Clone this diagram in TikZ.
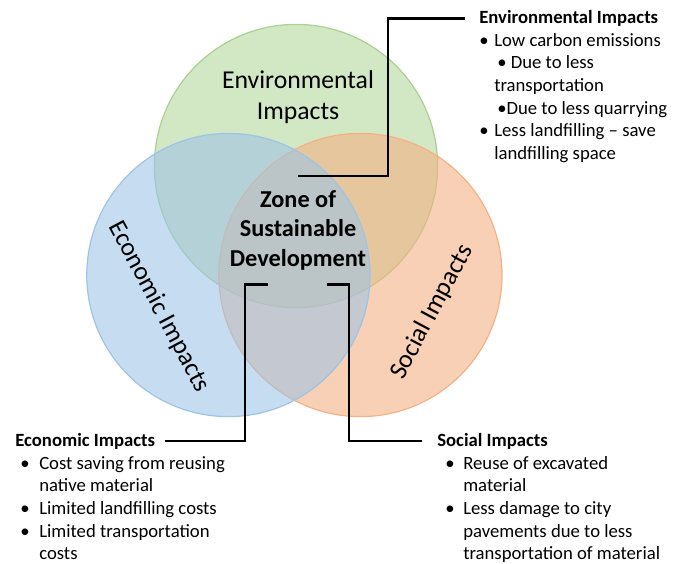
\documentclass[tikz,border=0pt]{standalone}
\usepackage{fontspec}
\setmainfont{Carlito}
\usepackage{xcolor}
\usepackage{tikz}
\usetikzlibrary{
    calc,
    positioning
}
\definecolor{envgreen}{RGB}{169,209,142}
\definecolor{ecoblue}{RGB}{157,195,230}
\definecolor{socorange}{RGB}{244,177,131}

\newcommand{\circlefont}{\fontsize{18.3pt}{22pt}\selectfont}
\newcommand{\zonefont}{\fontsize{17.3pt}{21pt}\selectfont\bfseries}
\newcommand{\impactfont}{\fontsize{13.3pt}{16.1pt}\selectfont}

\tikzset{
    setcircle/.style={
        circle,
        draw=#1,
        fill=#1,
        line width=0.3mm,
        minimum size=70.8mm,
        inner sep=0pt
    }
}
\tikzset{
    setlabel/.style={
        font=\circlefont,
        align=center,
        inner sep=0pt
    }
}
\tikzset{
    zonetext/.style={
        font=\zonefont,
        align=center,
        inner xsep=1mm,
        inner ysep=3.5mm
    }
}
\tikzset{
    leader/.style={
        draw=black,
        line width=0.55mm
    }
}
\tikzset{
    headtext/.style={
        font=\impactfont\bfseries,
        anchor=base west,
        inner sep=0pt
    }
}
\tikzset{
    itemlist/.style={
        font=\impactfont,
        anchor=base west,
        inner sep=0pt
    }
}

\begin{document}
\begin{tikzpicture}

\useasboundingbox (0,0) rectangle (168.75mm,-140.75mm);

% ------------------------------------------------------------
% The three overlapping impact sets (blue one on top)
% ------------------------------------------------------------

\node[setcircle=envgreen, fill opacity=0.52] (envset) at (74mm,-41.5mm) {};
\node[setcircle=socorange, fill opacity=0.6] (socset) at (90.1mm,-68.75mm) {};
\node[setcircle=ecoblue, fill opacity=0.58] (ecoset) at (57.1mm,-68.75mm) {};

\node[setlabel] (envlabel) at (74.5mm,-24.25mm) {Environmental\\Impacts};
\node[setlabel, rotate=-62] (ecolabel) at (39.75mm,-76.75mm) {Economic Impacts};
\node[setlabel, rotate=62] (soclabel) at (108mm,-78mm) {Social Impacts};

\node[zonetext] (zone) at (74.5mm,-57.6mm) {Zone of\\Sustainable\\Development};

% ------------------------------------------------------------
% Impact lists
% ------------------------------------------------------------

\node[headtext] (envhead) at (119.75mm,-5.9mm) {Environmental Impacts};
\node[itemlist] (envlist) at (119.75mm,-11.575mm) {%
    \begin{tabular}[t]{@{}p{3.75mm}@{}l@{}}
        • & Low carbon emissions \\
          & \hspace{0.75mm}• Due to less \\
          & transportation \\
          & \hspace{0.75mm}•Due to less quarrying \\
        • & Less landfilling – save \\
          & landfilling space
    \end{tabular}};

\node[headtext] (ecohead) at (3.75mm,-111.6mm) {Economic Impacts};
\node[itemlist] (ecolist) at (3.75mm,-117.3mm) {%
    \begin{tabular}[t]{@{\hspace{1.25mm}}p{4.75mm}@{}l@{}}
        • & Cost saving from reusing \\
          & native material \\
        • & Limited landfilling costs \\
        • & Limited transportation \\
          & costs
    \end{tabular}};

\node[headtext] (sochead) at (109.25mm,-111.6mm) {Social Impacts};
\node[itemlist] (soclist) at (109.25mm,-117.3mm) {%
    \begin{tabular}[t]{@{\hspace{2mm}}p{4.5mm}@{}l@{}}
        • & Reuse of excavated \\
          & material \\
        • & Less damage to city \\
          & pavements due to less \\
          & transportation of material
    \end{tabular}};

% Leaders from the central zone to each list
\draw[leader] (zone.north) -- ++(22.5mm,0) |- ([xshift=-3.5mm]envhead.west);
\draw[leader] ([xshift=-7.5mm]zone.south) -- ++(-5.75mm,0) |- ([xshift=2.5mm]ecohead.east);
\draw[leader] ([xshift=7.25mm]zone.south) -- ++(5.5mm,0) |- ([xshift=-3.75mm]sochead.west);

\end{tikzpicture}
\end{document}
